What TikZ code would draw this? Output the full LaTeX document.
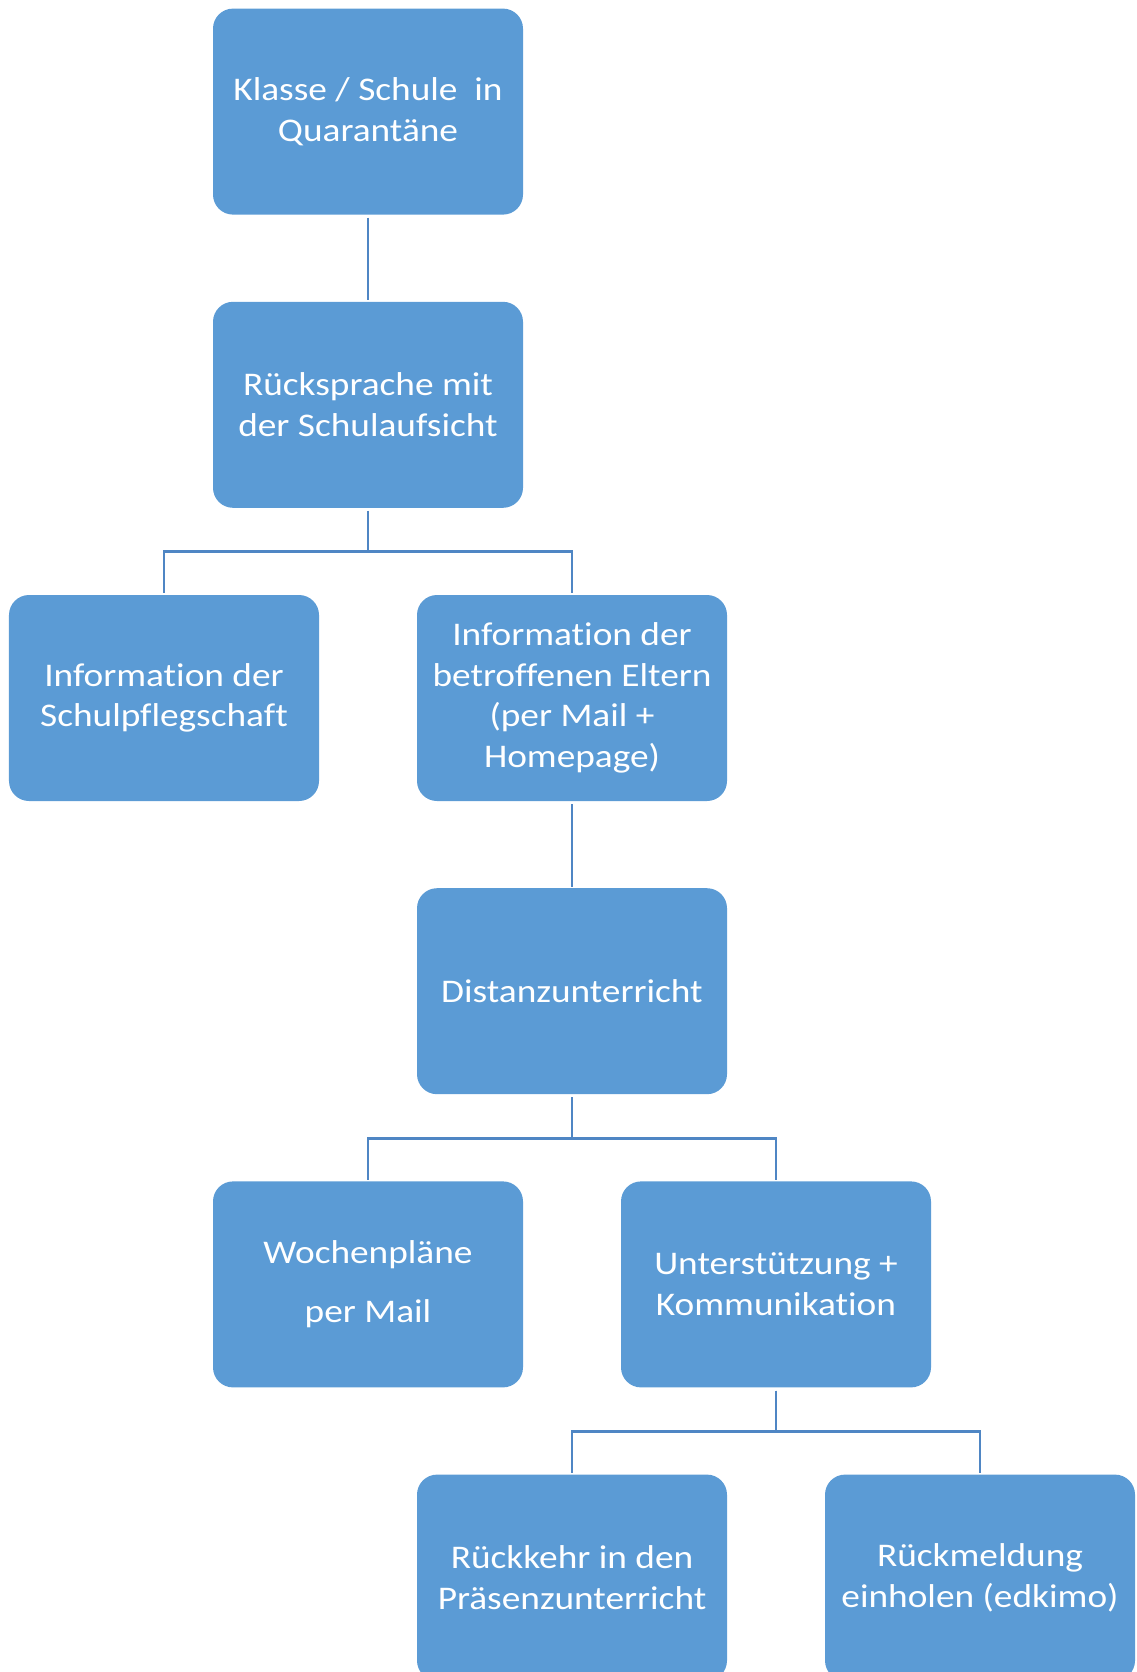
\documentclass[tikz,border=0pt]{standalone}
\usepackage{fontspec}
\setmainfont[FakeStretch=1.13, Ligatures={NoCommon}]{Carlito}
\usepackage{tikz}
\usetikzlibrary{shapes,arrows,positioning}
\definecolor{boxblue}{RGB}{91,155,213}
\definecolor{lineblue}{RGB}{79,134,196}

\begin{document}
\begin{tikzpicture}[
    level distance=7.33cm,
    sibling distance=10.2cm,
    stepbox/.style={rectangle, fill=boxblue, draw=none, rounded corners=0.5cm, minimum width=7.75cm, minimum height=5.15cm, text=white, align=center, font=\fontsize{23.5}{28.8}\selectfont},
    edge from parent/.style={draw=lineblue, line width=2pt, shorten <=2pt, shorten >=1pt},
    edge from parent path={(\tikzparentnode.south) -- ++(0,-1.09cm) -| (\tikzchildnode.north)}
]
    \useasboundingbox (0,0) rectangle (28.4,-41.8);
    \clip (0,0) rectangle (28.4,-41.8);
    \node[stepbox] (quarantaene) at (9.2,-2.79) {Klasse / Schule\ \ in\\Quarantäne}
        child {node[stepbox] (ruecksprache) {Rücksprache mit\\der Schulaufsicht}
            child {node[stepbox] (pflegschaft) {Information der\\Schulpflegschaft}}
            child {node[stepbox] (eltern) {Information der\\betroffenen Eltern\\(per Mail +\\Homepage)}
                child {node[stepbox] (distanz) {Distanzunterricht}
                    child {node[stepbox] (wochenplaene) {Wochenpläne\\[0.45cm]per Mail}}
                    child {node[stepbox] (unterstuetzung) {Unterstützung +\\Kommunikation}
                        child {node[stepbox] (rueckkehr) {Rückkehr in den\\Präsenzunterricht}}
                        child {node[stepbox] (rueckmeldung) {Rückmeldung\\einholen (edkimo)}}
                    }
                }
            }
        };
\end{tikzpicture}
\end{document}
